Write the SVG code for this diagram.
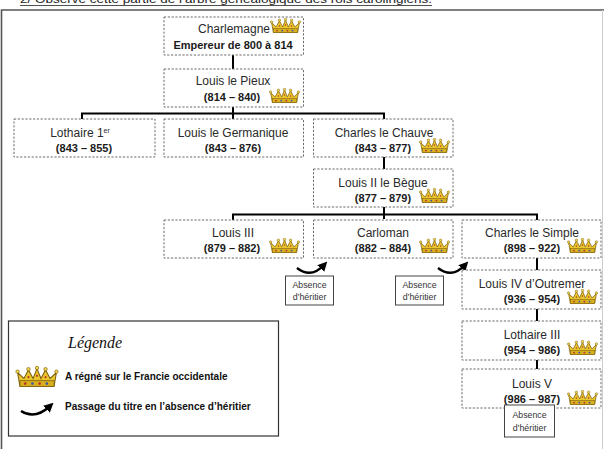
<svg xmlns="http://www.w3.org/2000/svg" width="604" height="449" viewBox="0 0 604 449">
<defs>
<style>
.node rect{fill:#fff;stroke:#6a6a6a;stroke-width:1;stroke-dasharray:2.2,1.6}
.name{font-family:"Liberation Sans",Arial,sans-serif;font-size:12px;fill:#2a2a2a;text-anchor:middle}
.date{font-family:"Liberation Sans",Arial,sans-serif;font-size:11px;font-weight:bold;fill:#1a1a1a;text-anchor:middle}
.abs rect{fill:#fff;stroke:#444;stroke-width:1}
.abs text{font-family:"Liberation Sans",Arial,sans-serif;font-size:8.8px;fill:#333;text-anchor:middle}
.link{stroke:#000;stroke-width:2;fill:none}
.curve{stroke:#000;stroke-width:2.4;fill:none;marker-end:url(#ah)}
.leg{font-family:"Liberation Sans",Arial,sans-serif;font-size:10px;font-weight:bold;fill:#111}
</style>
<marker id="ah" viewBox="0 0 10 10" refX="5" refY="5" markerWidth="4" markerHeight="4" orient="auto" markerUnits="strokeWidth">
<path d="M0,0 L10,5 L0,10 Z" fill="#000"/>
</marker>
<symbol id="crown" viewBox="0 0 32 16">
<path d="M3,15.5 L1.2,5 L6,9.5 L9.5,3 L13,9.5 L16,2 L19,9.5 L22.5,3 L26,9.5 L30.8,5 L29,15.5 Z" fill="#e9c62e" stroke="#7d5f0c" stroke-width="0.8"/>
<rect x="3" y="11.2" width="26" height="4.3" fill="#d8b020" stroke="#7d5f0c" stroke-width="0.6"/>
<circle cx="1.2" cy="4.3" r="1.3" fill="#f2d84e" stroke="#7d5f0c" stroke-width="0.5"/>
<circle cx="9.5" cy="2.4" r="1.3" fill="#f2d84e" stroke="#7d5f0c" stroke-width="0.5"/>
<circle cx="16" cy="1.5" r="1.3" fill="#f2d84e" stroke="#7d5f0c" stroke-width="0.5"/>
<circle cx="22.5" cy="2.4" r="1.3" fill="#f2d84e" stroke="#7d5f0c" stroke-width="0.5"/>
<circle cx="30.8" cy="4.3" r="1.3" fill="#f2d84e" stroke="#7d5f0c" stroke-width="0.5"/>
<circle cx="7" cy="13.4" r="1" fill="#b8342a"/>
<circle cx="12.5" cy="13.4" r="1" fill="#3a57a8"/>
<circle cx="18" cy="13.4" r="1" fill="#b8342a"/>
<circle cx="23.5" cy="13.4" r="1" fill="#3a57a8"/>
<circle cx="9.5" cy="8.5" r="0.8" fill="#b8342a"/>
<circle cx="16" cy="7.5" r="0.8" fill="#b8342a"/>
<circle cx="22.5" cy="8.5" r="0.8" fill="#b8342a"/>
</symbol>
</defs>
<rect width="604" height="449" fill="#fff"/>

<g id="title">
<text x="20" y="3" font-family="Liberation Sans,Arial,sans-serif" font-size="11" fill="#222" textLength="412" lengthAdjust="spacingAndGlyphs">2/ Observe cette partie de l’arbre généalogique des rois carolingiens.</text>
<line x1="20" y1="5.5" x2="432" y2="5.5" stroke="#222" stroke-width="0.8"/>
</g>

<g id="frame" fill="none" stroke="#555" stroke-width="1.6">
<path d="M1.5,449 L1.5,10 L604,10"/>
<line x1="602.5" y1="10" x2="602.5" y2="449" stroke="#ccc" stroke-width="1"/>
</g>

<g id="connectors">
<line class="link" x1="233" y1="55" x2="233" y2="69"/>
<line class="link" x1="233" y1="107" x2="233" y2="119"/>
<polyline class="link" points="82,120 82,113.5 384,113.5 384,120"/>
<line class="link" x1="384" y1="157" x2="384" y2="169"/>
<line class="link" x1="384" y1="207" x2="384" y2="219"/>
<polyline class="link" points="233,220 233,214.5 537,214.5 537,220"/>
<line class="link" x1="537" y1="258" x2="537" y2="270"/>
<line class="link" x1="537" y1="309" x2="537" y2="321"/>
<line class="link" x1="537" y1="360" x2="537" y2="369"/>
<path class="curve" d="M297,268 Q311,279 324,265"/>
<path class="curve" d="M438,268 Q452,279 465,265"/>
</g>

<g id="n-charlemagne" class="node">
<rect x="164" y="17" width="139.5" height="38"/>
<text class="name" x="234" y="33">Charlemagne</text>
<use href="#crown" x="270" y="18" width="31" height="15"/>
<text class="date" x="233" y="49">Empereur de 800 à 814</text>
</g>

<g id="n-louis-pieux" class="node">
<rect x="164" y="69" width="139.5" height="38"/>
<text class="name" x="233" y="85">Louis le Pieux</text>
<text class="date" x="232" y="101">(814 – 840)</text>
<use href="#crown" x="269" y="88" width="31" height="15"/>
</g>

<g id="n-lothaire1" class="node">
<rect x="14" y="119" width="141" height="38"/>
<text class="name" x="80" y="137">Lothaire 1<tspan font-size="7" dy="-4">er</tspan></text>
<text class="date" x="84" y="152">(843 – 855)</text>
</g>

<g id="n-louis-germanique" class="node">
<rect x="164" y="119" width="139.5" height="38"/>
<text class="name" x="233" y="137">Louis le Germanique</text>
<text class="date" x="233" y="152">(843 – 876)</text>
</g>

<g id="n-charles-chauve" class="node">
<rect x="313.5" y="119" width="139.5" height="38"/>
<text class="name" x="384" y="137">Charles le Chauve</text>
<text class="date" x="383" y="152">(843 – 877)</text>
<use href="#crown" x="419" y="138" width="31" height="15"/>
</g>

<g id="n-louis2" class="node">
<rect x="313.5" y="169" width="139.5" height="38"/>
<text class="name" x="383" y="187">Louis II le Bègue</text>
<text class="date" x="383" y="202">(877 – 879)</text>
<use href="#crown" x="419" y="188" width="31" height="15"/>
</g>

<g id="n-louis3" class="node">
<rect x="164" y="220" width="139.5" height="38"/>
<text class="name" x="233" y="237">Louis III</text>
<text class="date" x="232" y="252">(879 – 882)</text>
<use href="#crown" x="269" y="238" width="31" height="15"/>
</g>

<g id="n-carloman" class="node">
<rect x="313.5" y="220" width="139.5" height="38"/>
<text class="name" x="383" y="237">Carloman</text>
<text class="date" x="383" y="252">(882 – 884)</text>
<use href="#crown" x="419" y="238" width="31" height="15"/>
</g>

<g id="n-charles-simple" class="node">
<rect x="462" y="220" width="139" height="38"/>
<text class="name" x="532" y="237">Charles le Simple</text>
<text class="date" x="532" y="252">(898 – 922)</text>
<use href="#crown" x="567" y="238" width="31" height="15"/>
</g>

<g id="n-louis4" class="node">
<rect x="462" y="270" width="139" height="39"/>
<text class="name" x="532" y="288">Louis IV d’Outremer</text>
<text class="date" x="532" y="303">(936 – 954)</text>
<use href="#crown" x="567" y="289" width="31" height="15"/>
</g>

<g id="n-lothaire3" class="node">
<rect x="462" y="321" width="139" height="39"/>
<text class="name" x="532" y="339">Lothaire III</text>
<text class="date" x="532" y="354">(954 – 986)</text>
<use href="#crown" x="567" y="340" width="31" height="15"/>
</g>

<g id="n-louis5" class="node">
<rect x="462" y="369" width="139" height="39"/>
<text class="name" x="532" y="388">Louis V</text>
<text class="date" x="532" y="403">(986 – 987)</text>
<use href="#crown" x="567" y="390" width="31" height="15"/>
</g>

<g id="abs1" class="abs">
<rect x="285.5" y="276" width="48" height="29"/>
<text x="309.5" y="288">Absence</text>
<text x="309.5" y="300">d’héritier</text>
</g>
<g id="abs2" class="abs">
<rect x="395.5" y="276" width="48" height="29"/>
<text x="419.5" y="288">Absence</text>
<text x="419.5" y="300">d’héritier</text>
</g>
<g id="abs3" class="abs">
<rect x="504.5" y="405" width="50" height="32"/>
<text x="529.5" y="418">Absence</text>
<text x="529.5" y="431">d’héritier</text>
</g>

<g id="legend">
<rect x="8.5" y="321" width="270" height="115" fill="#fff" stroke="#333" stroke-width="1.2"/>
<text x="68" y="348" font-family="Liberation Serif,serif" font-style="italic" font-size="16" fill="#111">Légende</text>
<use href="#crown" x="15" y="366" width="44" height="21"/>
<text class="leg" x="65" y="380">A régné sur le Francie occidentale</text>
<path class="curve" d="M21,411 Q35,420 50,406"/>
<text class="leg" x="65" y="410">Passage du titre en l’absence d’héritier</text>
</g>
</svg>
